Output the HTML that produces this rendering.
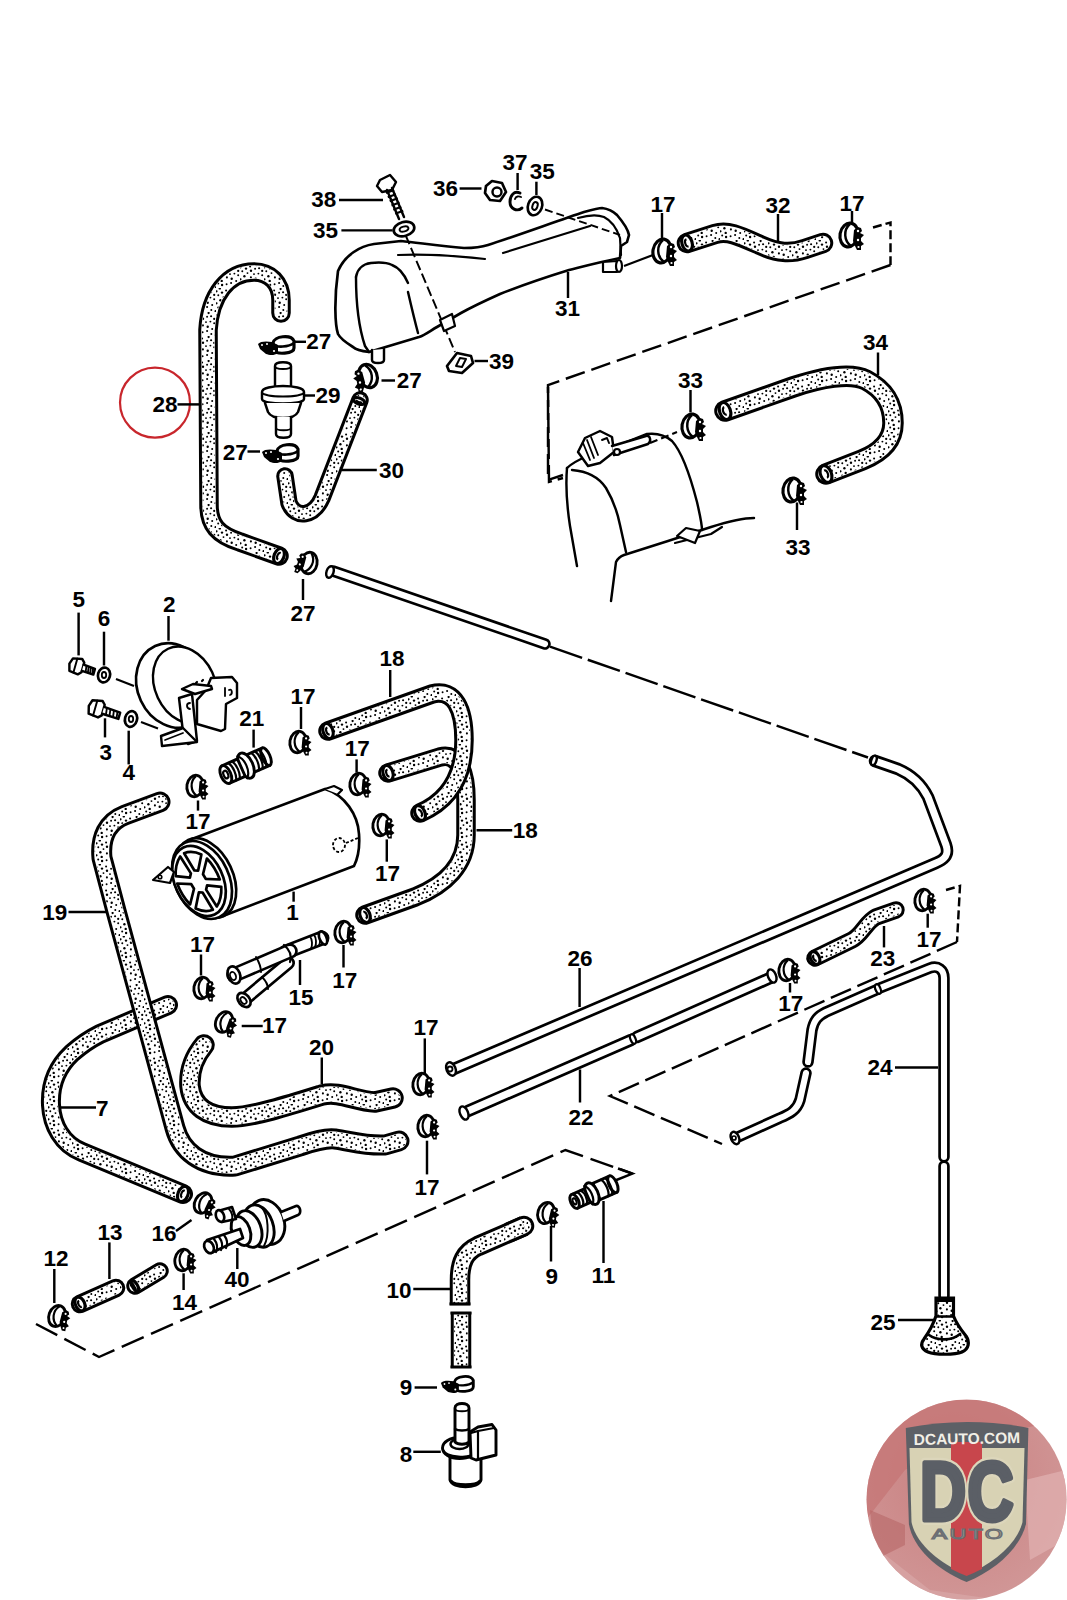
<!DOCTYPE html>
<html><head><meta charset="utf-8"><style>
html,body{margin:0;padding:0;background:#fff;}
body{width:1067px;height:1600px;overflow:hidden;}
svg{display:block;}
</style></head><body>
<svg width="1067" height="1600" viewBox="0 0 1067 1600">
<defs>
<pattern id="dots" width="24" height="24" patternUnits="userSpaceOnUse"><g fill="#000"><circle cx="10.9" cy="13.4" r="1.05"/><circle cx="22.2" cy="11.2" r="0.99"/><circle cx="4.4" cy="12.3" r="1.18"/><circle cx="15.1" cy="19.0" r="1.04"/><circle cx="2.3" cy="7.3" r="0.98"/><circle cx="2.2" cy="19.4" r="1.01"/><circle cx="16.6" cy="1.0" r="1.14"/><circle cx="23.6" cy="23.2" r="1.12"/><circle cx="15.7" cy="14.8" r="1.19"/><circle cx="3.8" cy="0.4" r="1.18"/><circle cx="10.6" cy="20.2" r="0.98"/><circle cx="11.0" cy="6.7" r="1.19"/><circle cx="20.2" cy="17.0" r="0.99"/><circle cx="18.4" cy="9.6" r="0.97"/><circle cx="19.1" cy="4.3" r="1.07"/><circle cx="6.0" cy="4.6" r="1.17"/><circle cx="10.1" cy="2.5" r="1.02"/><circle cx="5.7" cy="16.9" r="1.20"/><circle cx="0.5" cy="15.3" r="1.09"/><circle cx="19.3" cy="21.9" r="0.99"/><circle cx="0.5" cy="3.3" r="1.14"/><circle cx="7.5" cy="9.1" r="0.96"/><circle cx="14.0" cy="10.1" r="0.97"/><circle cx="15.1" cy="4.7" r="0.99"/><circle cx="6.1" cy="21.0" r="1.18"/><circle cx="22.2" cy="6.9" r="1.13"/></g></pattern>
</defs>
<rect width="1067" height="1600" fill="#fff"/>
<circle cx="155" cy="402.6" r="35" fill="none" stroke="#c8262c" stroke-width="2.20"/>
<path d="M281 313 L281 300 C281 283 270 272 254 272 C228 272 210 295 208 330 L209 505 C209 525 218 535 240 542 L279 556" stroke="#000" stroke-width="19.50" fill="none" stroke-linecap="round" stroke-linejoin="round"/>
<path d="M281 313 L281 300 C281 283 270 272 254 272 C228 272 210 295 208 330 L209 505 C209 525 218 535 240 542 L279 556" stroke="#fff" stroke-width="13.50" fill="none" stroke-linecap="round" stroke-linejoin="round"/>
<path d="M281 313 L281 300 C281 283 270 272 254 272 C228 272 210 295 208 330 L209 505 C209 525 218 535 240 542 L279 556" stroke="url(#dots)" stroke-width="12.50" fill="none" stroke-linecap="round" stroke-linejoin="round"/>
<ellipse cx="279" cy="556" rx="4.9" ry="7.8" transform="rotate(22 279 556)" fill="#fff" stroke="#000" stroke-width="3.17"/>
<path d="M279.5 552.5 A2.2 3.5 0 1 0 279.5 559.5" transform="rotate(22 279 556)" fill="none" stroke="#000" stroke-width="2.20"/>
<path d="M360 400 L322 498 C314 516 296 520 289 503 L285 476" stroke="#000" stroke-width="17.50" fill="none" stroke-linecap="round" stroke-linejoin="round"/>
<path d="M360 400 L322 498 C314 516 296 520 289 503 L285 476" stroke="#fff" stroke-width="11.50" fill="none" stroke-linecap="round" stroke-linejoin="round"/>
<path d="M360 400 L322 498 C314 516 296 520 289 503 L285 476" stroke="url(#dots)" stroke-width="10.50" fill="none" stroke-linecap="round" stroke-linejoin="round"/>
<ellipse cx="359" cy="401" rx="3" ry="6" transform="rotate(-69 359 401)" fill="#fff" stroke="#000" stroke-width="3.17"/>
<path d="M359.3 398.3 A1.4 2.7 0 1 0 359.3 403.7" transform="rotate(-69 359 401)" fill="none" stroke="#000" stroke-width="2.20"/>
<g transform="translate(277 345) rotate(0) scale(1 1)"><path d="M-4 -2 C-3 -9 14 -11 17 -4 L17 3 C17 9 -1 10 -3 5 Z" fill="#fff" stroke="#000" stroke-width="3.17"/><path d="M-4 -1 C-1 3 12 2 17 -2" fill="none" stroke="#000" stroke-width="2.68"/><path d="M-19 -1 C-17 -4 -10 -4 -5 -3 L1 0 L1 8 C-3 11 -8 10 -11 9 L-17 4 Z" fill="#000"/><circle cx="-15" cy="0" r="1" fill="#fff"/><circle cx="-10" cy="-1" r="1" fill="#fff"/><circle cx="-3" cy="6" r="1.1" fill="#fff"/></g>
<g transform="translate(281 453) rotate(0) scale(1 1)"><path d="M-4 -2 C-3 -9 14 -11 17 -4 L17 3 C17 9 -1 10 -3 5 Z" fill="#fff" stroke="#000" stroke-width="3.17"/><path d="M-4 -1 C-1 3 12 2 17 -2" fill="none" stroke="#000" stroke-width="2.68"/><path d="M-19 -1 C-17 -4 -10 -4 -5 -3 L1 0 L1 8 C-3 11 -8 10 -11 9 L-17 4 Z" fill="#000"/><circle cx="-15" cy="0" r="1" fill="#fff"/><circle cx="-10" cy="-1" r="1" fill="#fff"/><circle cx="-3" cy="6" r="1.1" fill="#fff"/></g>
<path d="M275 389 L275 366 C275 361 291 361 291 366 L291 389" stroke="#000" stroke-width="2.44" fill="#fff" stroke-linejoin="round" stroke-linecap="round" />
<path d="M275 366 C275 370 291 370 291 366" stroke="#000" stroke-width="1.95" fill="none" stroke-linejoin="round" stroke-linecap="round" />
<path d="M262 392 C262 384 304 384 304 392 L304 399 C304 405 262 405 262 399 Z" stroke="#000" stroke-width="2.44" fill="#fff" stroke-linejoin="round" stroke-linecap="round" />
<path d="M262 392 C262 398 304 398 304 392" stroke="#000" stroke-width="1.95" fill="none" stroke-linejoin="round" stroke-linecap="round" />
<path d="M265 403 L268 412 C272 420 294 420 298 412 L301 403" stroke="#000" stroke-width="2.44" fill="#fff" stroke-linejoin="round" stroke-linecap="round" />
<path d="M276 417 L276 434 C276 439 291 439 291 434 L291 417" stroke="#000" stroke-width="2.44" fill="#fff" stroke-linejoin="round" stroke-linecap="round" />
<path d="M276 428 C276 431 291 431 291 428" stroke="#000" stroke-width="1.83" fill="none" stroke-linejoin="round" stroke-linecap="round" />
<path d="M333 571 L545 644" stroke="#000" stroke-width="11.50" fill="none" stroke-linecap="round" stroke-linejoin="round"/>
<path d="M333 571 L545 644" stroke="#fff" stroke-width="6.10" fill="none" stroke-linecap="round" stroke-linejoin="round"/>
<ellipse cx="330" cy="572" rx="3.5" ry="6" transform="rotate(19 330 572)" fill="#fff" stroke="#000" stroke-width="2.44"/>
<path d="M550 646.6 L868 757.5" stroke="#000" stroke-width="2.44" fill="none" stroke-dasharray="34 6"/>
<path d="M875 761 L898 769 C912 775 922 785 928 797 L946 845 C949 854 946 859 936 863 L455 1068.5" stroke="#000" stroke-width="12.50" fill="none" stroke-linecap="round" stroke-linejoin="round"/>
<path d="M875 761 L898 769 C912 775 922 785 928 797 L946 845 C949 854 946 859 936 863 L455 1068.5" stroke="#fff" stroke-width="7.10" fill="none" stroke-linecap="round" stroke-linejoin="round"/>
<ellipse cx="874" cy="760.5" rx="2.5" ry="5" transform="rotate(19 874 760)" fill="#fff" stroke="#000" stroke-width="2.44"/>
<path d="M338 271 C345 255 360 246 374 244 L401 241 C420 243 440 246 464 248 C475 248 482 247 488 245 C510 238 560 220 584 212 C595 209 600 208 602 208 C610 209 614 212 617 215 C623 222 628 230 629 235 L627 242 L621 246 L620 258 C600 262 585 266 569 270 C540 279 520 286 500 294 C480 303 470 308 461 313 L437 327 C430 331 425 335 419 337 L369 352 C360 351 356 350 353 347 C345 342 340 338 338 334 C335 325 334 300 338 271 Z" stroke="#000" stroke-width="2.68" fill="#fff" stroke-linejoin="round" stroke-linecap="round" />
<path d="M356 277 C357 270 362 264 371 263 C380 262 388 263 392 265 C400 268 405 276 408 283" stroke="#000" stroke-width="2.44" fill="none" stroke-linejoin="round" stroke-linecap="round" />
<path d="M356 277 C356 300 358 325 365 346 L369 352" stroke="#000" stroke-width="2.44" fill="none" stroke-linejoin="round" stroke-linecap="round" />
<path d="M408 292 C411 305 414 318 418 333" stroke="#000" stroke-width="2.44" fill="none" stroke-linejoin="round" stroke-linecap="round" />
<path d="M398 255 C420 254 440 254 485 259" stroke="#000" stroke-width="2.20" fill="none" stroke-linejoin="round" stroke-linecap="round" />
<path d="M503 253 L590 226" stroke="#000" stroke-width="2.20" fill="none" stroke-linejoin="round" stroke-linecap="round" />
<path d="M578 218 C585 216 596 214 604 217 C612 221 617 229 620 238 L621 255" stroke="#000" stroke-width="2.20" fill="none" stroke-linejoin="round" stroke-linecap="round" />
<path d="M545 209.5 L620 235" stroke="#000" stroke-width="1.95" fill="none" stroke-dasharray="8 4"/>
<path d="M405.5 235 L455 352" stroke="#000" stroke-width="1.95" fill="none" stroke-dasharray="10 4"/>
<path d="M440 320 L452 314 L455 326 L444 331 Z" stroke="#000" stroke-width="2.20" fill="#fff" stroke-linejoin="round" stroke-linecap="round" />
<path d="M372 350 L372 360 C372 364 384 364 384 360 L384 349" stroke="#000" stroke-width="2.44" fill="#fff" stroke-linejoin="round" stroke-linecap="round" />
<path d="M603 262 L617 261 L617 272 L603 272 Z" stroke="#000" stroke-width="2.20" fill="#fff" stroke-linejoin="round" stroke-linecap="round" />
<ellipse cx="619" cy="266" rx="3" ry="6" fill="#fff" stroke="#000" stroke-width="2.20"/>
<line x1="624" y1="266" x2="653" y2="255" stroke="#000" stroke-width="2.20"/>
<path d="M380 180 L390 175 L396 182 L392 190 L382 192 L377 186 Z" stroke="#000" stroke-width="2.44" fill="#fff" stroke-linejoin="round" stroke-linecap="round" />
<path d="M387 190 L399 219 M392 188 L404 217" stroke="#000" stroke-width="2.44" fill="none" stroke-linejoin="round" stroke-linecap="round" />
<line x1="386" y1="193" x2="394" y2="190" stroke="#000" stroke-width="2.20"/>
<line x1="387.8" y1="197.2" x2="395.8" y2="194.2" stroke="#000" stroke-width="2.20"/>
<line x1="389.7" y1="201.3" x2="397.7" y2="198.3" stroke="#000" stroke-width="2.20"/>
<line x1="391.5" y1="205.5" x2="399.5" y2="202.5" stroke="#000" stroke-width="2.20"/>
<line x1="393.3" y1="209.7" x2="401.3" y2="206.7" stroke="#000" stroke-width="2.20"/>
<line x1="395.2" y1="213.8" x2="403.2" y2="210.8" stroke="#000" stroke-width="2.20"/>
<ellipse cx="404" cy="229" rx="10.5" ry="7" transform="rotate(-15 404 229)" fill="#fff" stroke="#000" stroke-width="2.68"/>
<ellipse cx="404" cy="229" rx="4.5" ry="2.5" transform="rotate(-15 404 229)" fill="none" stroke="#000" stroke-width="1.95"/>
<path d="M486 186 L492 181 L502 183 L506 192 L500 201 L490 200 L485 193 Z" stroke="#000" stroke-width="2.68" fill="#fff" stroke-linejoin="round" stroke-linecap="round" />
<circle cx="497" cy="192" r="4.5" fill="none" stroke="#000" stroke-width="2.44"/>
<path d="M520 193 C514 190 510 196 510 202 C510 209 517 212 522 208" stroke="#000" stroke-width="2.93" fill="none" stroke-linejoin="round" stroke-linecap="round" />
<path d="M515 199 C516 196 519 196 521 197" stroke="#000" stroke-width="1.95" fill="none" stroke-linejoin="round" stroke-linecap="round" />
<ellipse cx="535" cy="206" rx="7" ry="9.5" transform="rotate(20 535 206)" fill="#fff" stroke="#000" stroke-width="2.68"/>
<ellipse cx="535" cy="206" rx="2.5" ry="4" transform="rotate(20 535 206)" fill="none" stroke="#000" stroke-width="1.95"/>
<path d="M447 366 L457 353 L471 356 L473 363 L462 373 L449 371 Z" stroke="#000" stroke-width="2.68" fill="#fff" stroke-linejoin="round" stroke-linecap="round" />
<path d="M456 366 L460 358 L466 359 L462 367 Z" stroke="#000" stroke-width="1.95" fill="none" stroke-linejoin="round" stroke-linecap="round" />
<g transform="translate(368 376) rotate(-10) scale(-1 1)"><ellipse cx="0" cy="0" rx="9" ry="12" transform="rotate(10)" fill="#fff" stroke="#000" stroke-width="3.17"/><path d="M1 -11 C-6 -5 -5 6 2 11" fill="none" stroke="#000" stroke-width="2.44"/><path d="M5 -5 L9 -8 L12 -7 L13 -4 L11 -2 L15 0 L12 3 L12 6 L15 9 L12 11 L12 15 L8 15 L6 11 L4 6 Z" fill="#000"/><circle cx="9" cy="-4" r="1.2" fill="#fff"/><circle cx="9" cy="5" r="1.2" fill="#fff"/><circle cx="9.5" cy="12" r="1.1" fill="#fff"/></g>
<g transform="translate(309 563) rotate(20) scale(-0.9 0.9)"><ellipse cx="0" cy="0" rx="9" ry="12" transform="rotate(10)" fill="#fff" stroke="#000" stroke-width="3.17"/><path d="M1 -11 C-6 -5 -5 6 2 11" fill="none" stroke="#000" stroke-width="2.44"/><path d="M5 -5 L9 -8 L12 -7 L13 -4 L11 -2 L15 0 L12 3 L12 6 L15 9 L12 11 L12 15 L8 15 L6 11 L4 6 Z" fill="#000"/><circle cx="9" cy="-4" r="1.2" fill="#fff"/><circle cx="9" cy="5" r="1.2" fill="#fff"/><circle cx="9.5" cy="12" r="1.1" fill="#fff"/></g>
<path d="M687 243 L715 234 C728 230 740 236 760 245 C778 253 790 254 805 249 L823 243" stroke="#000" stroke-width="20.50" fill="none" stroke-linecap="round" stroke-linejoin="round"/>
<path d="M687 243 L715 234 C728 230 740 236 760 245 C778 253 790 254 805 249 L823 243" stroke="#fff" stroke-width="14.50" fill="none" stroke-linecap="round" stroke-linejoin="round"/>
<path d="M687 243 L715 234 C728 230 740 236 760 245 C778 253 790 254 805 249 L823 243" stroke="url(#dots)" stroke-width="13.50" fill="none" stroke-linecap="round" stroke-linejoin="round"/>
<ellipse cx="687" cy="243" rx="5.1" ry="8.2" transform="rotate(-17 687 243)" fill="#fff" stroke="#000" stroke-width="3.17"/>
<path d="M687.5 239.3 A2.3 3.7 0 1 0 687.5 246.7" transform="rotate(-17 687 243)" fill="none" stroke="#000" stroke-width="2.20"/>
<g transform="translate(662 251) rotate(0) scale(1 1)"><ellipse cx="0" cy="0" rx="9" ry="12" transform="rotate(10)" fill="#fff" stroke="#000" stroke-width="3.17"/><path d="M1 -11 C-6 -5 -5 6 2 11" fill="none" stroke="#000" stroke-width="2.44"/><path d="M5 -5 L9 -8 L12 -7 L13 -4 L11 -2 L15 0 L12 3 L12 6 L15 9 L12 11 L12 15 L8 15 L6 11 L4 6 Z" fill="#000"/><circle cx="9" cy="-4" r="1.2" fill="#fff"/><circle cx="9" cy="5" r="1.2" fill="#fff"/><circle cx="9.5" cy="12" r="1.1" fill="#fff"/></g>
<g transform="translate(849 235) rotate(0) scale(1 1)"><ellipse cx="0" cy="0" rx="9" ry="12" transform="rotate(10)" fill="#fff" stroke="#000" stroke-width="3.17"/><path d="M1 -11 C-6 -5 -5 6 2 11" fill="none" stroke="#000" stroke-width="2.44"/><path d="M5 -5 L9 -8 L12 -7 L13 -4 L11 -2 L15 0 L12 3 L12 6 L15 9 L12 11 L12 15 L8 15 L6 11 L4 6 Z" fill="#000"/><circle cx="9" cy="-4" r="1.2" fill="#fff"/><circle cx="9" cy="5" r="1.2" fill="#fff"/><circle cx="9.5" cy="12" r="1.1" fill="#fff"/></g>
<path d="M873 227.5 L890.5 222.5 L890.5 265" stroke="#000" stroke-width="2.44" fill="none" stroke-dasharray="9 4"/>
<path d="M890.5 265 L548 385 L548 480 L563 475" stroke="#000" stroke-width="2.44" fill="none" stroke-dasharray="20 7"/>
<path d="M725 411 L793 387 C820 378 850 372 866 380 C885 390 893 405 893 423 C893 440 882 452 862 460 L826 474" stroke="#000" stroke-width="21.50" fill="none" stroke-linecap="round" stroke-linejoin="round"/>
<path d="M725 411 L793 387 C820 378 850 372 866 380 C885 390 893 405 893 423 C893 440 882 452 862 460 L826 474" stroke="#fff" stroke-width="15.50" fill="none" stroke-linecap="round" stroke-linejoin="round"/>
<path d="M725 411 L793 387 C820 378 850 372 866 380 C885 390 893 405 893 423 C893 440 882 452 862 460 L826 474" stroke="url(#dots)" stroke-width="14.50" fill="none" stroke-linecap="round" stroke-linejoin="round"/>
<ellipse cx="725" cy="411" rx="5.4" ry="8.8" transform="rotate(-19 725 411)" fill="#fff" stroke="#000" stroke-width="3.17"/>
<path d="M725.5 407.1 A2.4 3.9 0 1 0 725.5 414.9" transform="rotate(-19 725 411)" fill="none" stroke="#000" stroke-width="2.20"/>
<ellipse cx="826" cy="474" rx="5.4" ry="8.8" transform="rotate(158 826 474)" fill="#fff" stroke="#000" stroke-width="3.17"/>
<path d="M826.5 470.1 A2.4 3.9 0 1 0 826.5 477.9" transform="rotate(158 826 474)" fill="none" stroke="#000" stroke-width="2.20"/>
<g transform="translate(691 426) rotate(0) scale(1 1)"><ellipse cx="0" cy="0" rx="9" ry="12" transform="rotate(10)" fill="#fff" stroke="#000" stroke-width="3.17"/><path d="M1 -11 C-6 -5 -5 6 2 11" fill="none" stroke="#000" stroke-width="2.44"/><path d="M5 -5 L9 -8 L12 -7 L13 -4 L11 -2 L15 0 L12 3 L12 6 L15 9 L12 11 L12 15 L8 15 L6 11 L4 6 Z" fill="#000"/><circle cx="9" cy="-4" r="1.2" fill="#fff"/><circle cx="9" cy="5" r="1.2" fill="#fff"/><circle cx="9.5" cy="12" r="1.1" fill="#fff"/></g>
<g transform="translate(792 490) rotate(0) scale(1 1)"><ellipse cx="0" cy="0" rx="9" ry="12" transform="rotate(10)" fill="#fff" stroke="#000" stroke-width="3.17"/><path d="M1 -11 C-6 -5 -5 6 2 11" fill="none" stroke="#000" stroke-width="2.44"/><path d="M5 -5 L9 -8 L12 -7 L13 -4 L11 -2 L15 0 L12 3 L12 6 L15 9 L12 11 L12 15 L8 15 L6 11 L4 6 Z" fill="#000"/><circle cx="9" cy="-4" r="1.2" fill="#fff"/><circle cx="9" cy="5" r="1.2" fill="#fff"/><circle cx="9.5" cy="12" r="1.1" fill="#fff"/></g>
<path d="M567 468 C566 480 566 500 570 526 L577 566" stroke="#000" stroke-width="2.44" fill="none" stroke-linejoin="round" stroke-linecap="round" />
<path d="M567 468 C575 460 600 450 612 448 L647 434 C655 433 665 435 672 441 C682 452 690 475 697 502 C700 515 702 525 702 530" stroke="#000" stroke-width="2.44" fill="none" stroke-linejoin="round" stroke-linecap="round" />
<path d="M572 470 C585 471 598 476 606 488 C612 498 617 510 620 525 L626 552" stroke="#000" stroke-width="2.44" fill="none" stroke-linejoin="round" stroke-linecap="round" />
<path d="M611 601 L616 562 C618 558 621 556 624 555 L668 541 L711 527 C730 521 745 518 754 518" stroke="#000" stroke-width="2.44" fill="none" stroke-linejoin="round" stroke-linecap="round" />
<path d="M675 543 L711 534 L722 527" stroke="#000" stroke-width="2.20" fill="none" stroke-linejoin="round" stroke-linecap="round" />
<path d="M677 536 L686 528 L700 531 L695 543 Z" stroke="#000" stroke-width="2.20" fill="#fff" stroke-linejoin="round" stroke-linecap="round" />
<path d="M578 452 L585 438 L600 431 L612 437 L614 452 L600 463 L588 466 Z" stroke="#000" stroke-width="2.44" fill="#fff" stroke-linejoin="round" stroke-linecap="round" />
<path d="M583 443 L590 460 M587 440 L594 458 M591 437 L598 455" stroke="#000" stroke-width="1.83" fill="none" stroke-linejoin="round" stroke-linecap="round" />
<path d="M602 440 L607 438 L609 443" stroke="#000" stroke-width="1.95" fill="none" stroke-linejoin="round" stroke-linecap="round" />
<path d="M612 446 L646 436 C650 435 652 441 648 444 L614 455" stroke="#000" stroke-width="2.44" fill="#fff" stroke-linejoin="round" stroke-linecap="round" />
<circle cx="617" cy="452" r="3" fill="#fff" stroke="#000" stroke-width="2.20"/>
<path d="M650 443 L677 432" stroke="#000" stroke-width="2.20" fill="none" stroke-dasharray="8 4"/>
<path d="M548 387 L549 482 L563 478" stroke="#000" stroke-width="2.44" fill="none" stroke-dasharray="20 6"/>
<g transform="rotate(16 76 666)">
<path d="M71 659.5 L80 657.5 L83 660.5 L83 670.5 L80 673.5 L71 672.5 L69 665.5 Z" stroke="#000" stroke-width="2.44" fill="#fff" stroke-linejoin="round" stroke-linecap="round" />
<path d="M75.3 658.5 L75.3 673.0" stroke="#000" stroke-width="1.95" fill="none" stroke-linejoin="round" stroke-linecap="round" />
<path d="M83 662.5 L95 663.5 L95 669.5 L83 669.0" stroke="#000" stroke-width="2.44" fill="#fff" stroke-linejoin="round" stroke-linecap="round" />
<line x1="86" y1="663" x2="87" y2="669.5" stroke="#000" stroke-width="1.83"/>
<line x1="88.3" y1="663" x2="89.3" y2="669.5" stroke="#000" stroke-width="1.83"/>
<line x1="90.6" y1="663" x2="91.6" y2="669.5" stroke="#000" stroke-width="1.83"/>
<line x1="92.9" y1="663" x2="93.9" y2="669.5" stroke="#000" stroke-width="1.83"/>
</g>
<ellipse cx="104" cy="675" rx="6" ry="7.5" transform="rotate(15 104 675)" fill="#fff" stroke="#000" stroke-width="2.68"/>
<ellipse cx="104" cy="675" rx="2.2" ry="3" fill="none" stroke="#000" stroke-width="1.83"/>
<line x1="116" y1="679" x2="134" y2="686" stroke="#000" stroke-width="2.20"/>
<g transform="rotate(16 96 708)">
<path d="M90.5 701.5 L100.5 699.5 L103.5 702.5 L103.5 713.5 L100.5 716.5 L90.5 715.5 L88.5 708.0 Z" stroke="#000" stroke-width="2.44" fill="#fff" stroke-linejoin="round" stroke-linecap="round" />
<path d="M95.25 700.5 L95.25 716.0" stroke="#000" stroke-width="1.95" fill="none" stroke-linejoin="round" stroke-linecap="round" />
<path d="M103.5 704.7 L120.5 705.7 L120.5 712.3 L103.5 711.8" stroke="#000" stroke-width="2.44" fill="#fff" stroke-linejoin="round" stroke-linecap="round" />
<line x1="106.5" y1="705.2" x2="107.5" y2="712.3" stroke="#000" stroke-width="1.83"/>
<line x1="110.2" y1="705.2" x2="111.2" y2="712.3" stroke="#000" stroke-width="1.83"/>
<line x1="113.9" y1="705.2" x2="114.9" y2="712.3" stroke="#000" stroke-width="1.83"/>
<line x1="117.6" y1="705.2" x2="118.6" y2="712.3" stroke="#000" stroke-width="1.83"/>
</g>
<ellipse cx="131" cy="719" rx="6" ry="8" transform="rotate(15 131 719)" fill="#fff" stroke="#000" stroke-width="2.68"/>
<ellipse cx="131" cy="719" rx="2.2" ry="3" fill="none" stroke="#000" stroke-width="1.83"/>
<line x1="141" y1="722" x2="158" y2="728.5" stroke="#000" stroke-width="2.20"/>
<ellipse cx="173.5" cy="685.5" rx="36" ry="43.5" transform="rotate(-25 173.5 685.5)" fill="#fff" stroke="#000" stroke-width="2.68"/>
<ellipse cx="185" cy="685" rx="30" ry="40" transform="rotate(-25 185 685)" fill="#fff" stroke="#000" stroke-width="2.44"/>
<path d="M197 724 L221 731 L225 729 L226 704 L237 698 L237 683 L232 677 L211 678 L206 690 L197 700 Z" stroke="#000" stroke-width="2.44" fill="#fff" stroke-linejoin="round" stroke-linecap="round" />
<path d="M179 698 L192 694 L197 741 L188 744 L183 732 Z" stroke="#000" stroke-width="2.44" fill="#fff" stroke-linejoin="round" stroke-linecap="round" />
<path d="M161 736 L183 728 L197 742 L162 746 Z" stroke="#000" stroke-width="2.44" fill="#fff" stroke-linejoin="round" stroke-linecap="round" />
<path d="M182 689 L193 684 L211 686 L212 689 L195 694 Z" stroke="#000" stroke-width="2.44" fill="#fff" stroke-linejoin="round" stroke-linecap="round" />
<path d="M225 688 L225 696 M229 690 C232 688 233 694 230 695" stroke="#000" stroke-width="1.83" fill="none" stroke-linejoin="round" stroke-linecap="round" />
<path d="M190 703 C186 703 186 708 190 709" stroke="#000" stroke-width="1.83" fill="none" stroke-linejoin="round" stroke-linecap="round" />
<path d="M165 740 L183 733" stroke="#000" stroke-width="1.71" fill="none" stroke-linejoin="round" stroke-linecap="round" />
<path d="M196 683 L197 682 M202 681 L203 680" stroke="#000" stroke-width="2.20" fill="none" stroke-linejoin="round" stroke-linecap="round" />
<g transform="translate(245 766) rotate(-24)">
<path d="M6 -9.5 L23 -9.5 L23 9.5 L6 9.5 Z" stroke="#000" stroke-width="2.93" fill="#fff" stroke-linejoin="round" stroke-linecap="round" />
<ellipse cx="23" cy="0" rx="4" ry="9.5" fill="#fff" stroke="#000" stroke-width="2.93"/>
<path d="M11 -9.5 C14 -5 14 5 11 9.5 M15 -9.5 C18 -5 18 5 15 9.5 M19 -9.5 C22 -5 22 5 19 9.5" stroke="#000" stroke-width="2.20" fill="none" stroke-linejoin="round" stroke-linecap="round" />
<ellipse cx="1" cy="0" rx="7" ry="13.5" fill="#fff" stroke="#000" stroke-width="2.93"/>
<path d="M-3 -12 C3 -7 3 7 -3 12" stroke="#000" stroke-width="2.20" fill="none" stroke-linejoin="round" stroke-linecap="round" />
<path d="M-21 -9.5 L-4 -9.5 L-4 9.5 L-21 9.5 Z" stroke="#000" stroke-width="2.93" fill="#fff" stroke-linejoin="round" stroke-linecap="round" />
<path d="M-14 -9.5 C-11 -5 -11 5 -14 9.5 M-10 -9.5 C-7 -5 -7 5 -10 9.5" stroke="#000" stroke-width="2.20" fill="none" stroke-linejoin="round" stroke-linecap="round" />
<ellipse cx="-21" cy="0" rx="5" ry="9.5" fill="#fff" stroke="#000" stroke-width="2.93"/>
<ellipse cx="-21" cy="0" rx="2.2" ry="4" fill="none" stroke="#000" stroke-width="2.20"/>
</g>
<g transform="translate(195 786) rotate(0) scale(0.9 0.9)"><ellipse cx="0" cy="0" rx="9" ry="12" transform="rotate(10)" fill="#fff" stroke="#000" stroke-width="3.17"/><path d="M1 -11 C-6 -5 -5 6 2 11" fill="none" stroke="#000" stroke-width="2.44"/><path d="M5 -5 L9 -8 L12 -7 L13 -4 L11 -2 L15 0 L12 3 L12 6 L15 9 L12 11 L12 15 L8 15 L6 11 L4 6 Z" fill="#000"/><circle cx="9" cy="-4" r="1.2" fill="#fff"/><circle cx="9" cy="5" r="1.2" fill="#fff"/><circle cx="9.5" cy="12" r="1.1" fill="#fff"/></g>
<path d="M192 839 L325 789 C345 795 358 815 359 834 C360 848 357 860 354 866 L223 916" stroke="#000" stroke-width="2.68" fill="#fff" stroke-linejoin="round" stroke-linecap="round" />
<path d="M325 789 L334 786 L342 790 L338 794" stroke="#000" stroke-width="2.20" fill="#fff" stroke-linejoin="round" stroke-linecap="round" />
<ellipse cx="339" cy="845" rx="6" ry="7" fill="none" stroke="#000" stroke-width="1.83" stroke-dasharray="3 2"/>
<path d="M346 843 L358 838" stroke="#000" stroke-width="1.83" fill="none" stroke-dasharray="3 2"/>
<ellipse cx="206" cy="878" rx="27" ry="42" transform="rotate(-25 206 878)" fill="#fff" stroke="#000" stroke-width="2.68"/>
<ellipse cx="202" cy="880" rx="27" ry="41" transform="rotate(-25 202 880)" fill="#fff" stroke="#000" stroke-width="2.68"/>
<ellipse cx="199" cy="881" rx="24" ry="37" transform="rotate(-25 199 881)" fill="#fff" stroke="#000" stroke-width="2.68"/>
<path d="M207.1 885.4 L221.3 886.8 Q221.9 898.8 216.8 906.5 L206.1 889.6 Z" stroke="#000" stroke-width="2.68" fill="#fff" stroke-linejoin="round" stroke-linecap="round" />
<path d="M202.6 892.5 L212.9 909.8 Q205.0 913.0 195.6 908.5 L198.9 892.3 Z" stroke="#000" stroke-width="2.68" fill="#fff" stroke-linejoin="round" stroke-linecap="round" />
<path d="M194.0 888.7 L190.1 904.5 Q181.7 895.7 177.2 883.5 L191.3 884.2 Z" stroke="#000" stroke-width="2.68" fill="#fff" stroke-linejoin="round" stroke-linecap="round" />
<path d="M189.9 877.6 L175.7 876.2 Q175.1 864.2 180.2 856.5 L190.9 873.4 Z" stroke="#000" stroke-width="2.68" fill="#fff" stroke-linejoin="round" stroke-linecap="round" />
<path d="M194.4 870.5 L184.1 853.2 Q192.0 850.0 201.4 854.5 L198.1 870.7 Z" stroke="#000" stroke-width="2.68" fill="#fff" stroke-linejoin="round" stroke-linecap="round" />
<path d="M203.0 874.3 L206.9 858.5 Q215.3 867.3 219.8 879.5 L205.7 878.8 Z" stroke="#000" stroke-width="2.68" fill="#fff" stroke-linejoin="round" stroke-linecap="round" />
<path d="M153 880 L168 867 L174 872 L170 883 Z" stroke="#000" stroke-width="2.20" fill="#fff" stroke-linejoin="round" stroke-linecap="round" />
<circle cx="160" cy="877" r="1.8" fill="none" stroke="#000" stroke-width="1.59"/>
<path d="M388 773 L440 757 C460 752 466 775 466 800 L466 835 C466 865 445 885 415 897 L365 915" stroke="#000" stroke-width="19.50" fill="none" stroke-linecap="round" stroke-linejoin="round"/>
<path d="M388 773 L440 757 C460 752 466 775 466 800 L466 835 C466 865 445 885 415 897 L365 915" stroke="#fff" stroke-width="13.50" fill="none" stroke-linecap="round" stroke-linejoin="round"/>
<path d="M388 773 L440 757 C460 752 466 775 466 800 L466 835 C466 865 445 885 415 897 L365 915" stroke="url(#dots)" stroke-width="12.50" fill="none" stroke-linecap="round" stroke-linejoin="round"/>
<ellipse cx="388" cy="773" rx="4.9" ry="7.8" transform="rotate(-17 388 773)" fill="#fff" stroke="#000" stroke-width="3.17"/>
<path d="M388.5 769.5 A2.2 3.5 0 1 0 388.5 776.5" transform="rotate(-17 388 773)" fill="none" stroke="#000" stroke-width="2.20"/>
<ellipse cx="365" cy="915" rx="4.9" ry="7.8" transform="rotate(160 365 915)" fill="#fff" stroke="#000" stroke-width="3.17"/>
<path d="M365.5 911.5 A2.2 3.5 0 1 0 365.5 918.5" transform="rotate(160 365 915)" fill="none" stroke="#000" stroke-width="2.20"/>
<path d="M328 731 L432 694 C455 688 464 710 464 740 C464 775 450 800 420 813" stroke="#000" stroke-width="19.50" fill="none" stroke-linecap="round" stroke-linejoin="round"/>
<path d="M328 731 L432 694 C455 688 464 710 464 740 C464 775 450 800 420 813" stroke="#fff" stroke-width="13.50" fill="none" stroke-linecap="round" stroke-linejoin="round"/>
<path d="M328 731 L432 694 C455 688 464 710 464 740 C464 775 450 800 420 813" stroke="url(#dots)" stroke-width="12.50" fill="none" stroke-linecap="round" stroke-linejoin="round"/>
<ellipse cx="328" cy="731" rx="4.9" ry="7.8" transform="rotate(-19 328 731)" fill="#fff" stroke="#000" stroke-width="3.17"/>
<path d="M328.5 727.5 A2.2 3.5 0 1 0 328.5 734.5" transform="rotate(-19 328 731)" fill="none" stroke="#000" stroke-width="2.20"/>
<ellipse cx="420" cy="813" rx="4.9" ry="7.8" transform="rotate(156 420 813)" fill="#fff" stroke="#000" stroke-width="3.17"/>
<path d="M420.5 809.5 A2.2 3.5 0 1 0 420.5 816.5" transform="rotate(156 420 813)" fill="none" stroke="#000" stroke-width="2.20"/>
<g transform="translate(298 742) rotate(0) scale(0.9 0.9)"><ellipse cx="0" cy="0" rx="9" ry="12" transform="rotate(10)" fill="#fff" stroke="#000" stroke-width="3.17"/><path d="M1 -11 C-6 -5 -5 6 2 11" fill="none" stroke="#000" stroke-width="2.44"/><path d="M5 -5 L9 -8 L12 -7 L13 -4 L11 -2 L15 0 L12 3 L12 6 L15 9 L12 11 L12 15 L8 15 L6 11 L4 6 Z" fill="#000"/><circle cx="9" cy="-4" r="1.2" fill="#fff"/><circle cx="9" cy="5" r="1.2" fill="#fff"/><circle cx="9.5" cy="12" r="1.1" fill="#fff"/></g>
<g transform="translate(358 784) rotate(0) scale(0.9 0.9)"><ellipse cx="0" cy="0" rx="9" ry="12" transform="rotate(10)" fill="#fff" stroke="#000" stroke-width="3.17"/><path d="M1 -11 C-6 -5 -5 6 2 11" fill="none" stroke="#000" stroke-width="2.44"/><path d="M5 -5 L9 -8 L12 -7 L13 -4 L11 -2 L15 0 L12 3 L12 6 L15 9 L12 11 L12 15 L8 15 L6 11 L4 6 Z" fill="#000"/><circle cx="9" cy="-4" r="1.2" fill="#fff"/><circle cx="9" cy="5" r="1.2" fill="#fff"/><circle cx="9.5" cy="12" r="1.1" fill="#fff"/></g>
<g transform="translate(381 825) rotate(0) scale(0.9 0.9)"><ellipse cx="0" cy="0" rx="9" ry="12" transform="rotate(10)" fill="#fff" stroke="#000" stroke-width="3.17"/><path d="M1 -11 C-6 -5 -5 6 2 11" fill="none" stroke="#000" stroke-width="2.44"/><path d="M5 -5 L9 -8 L12 -7 L13 -4 L11 -2 L15 0 L12 3 L12 6 L15 9 L12 11 L12 15 L8 15 L6 11 L4 6 Z" fill="#000"/><circle cx="9" cy="-4" r="1.2" fill="#fff"/><circle cx="9" cy="5" r="1.2" fill="#fff"/><circle cx="9.5" cy="12" r="1.1" fill="#fff"/></g>
<g transform="translate(343 932) rotate(0) scale(0.9 0.9)"><ellipse cx="0" cy="0" rx="9" ry="12" transform="rotate(10)" fill="#fff" stroke="#000" stroke-width="3.17"/><path d="M1 -11 C-6 -5 -5 6 2 11" fill="none" stroke="#000" stroke-width="2.44"/><path d="M5 -5 L9 -8 L12 -7 L13 -4 L11 -2 L15 0 L12 3 L12 6 L15 9 L12 11 L12 15 L8 15 L6 11 L4 6 Z" fill="#000"/><circle cx="9" cy="-4" r="1.2" fill="#fff"/><circle cx="9" cy="5" r="1.2" fill="#fff"/><circle cx="9.5" cy="12" r="1.1" fill="#fff"/></g>
<path d="M286 952 L322 938" stroke="#000" stroke-width="15.00" fill="none" stroke-linecap="round" stroke-linejoin="round"/>
<path d="M286 952 L322 938" stroke="#fff" stroke-width="9.60" fill="none" stroke-linecap="round" stroke-linejoin="round"/>
<path d="M310 936.5 C312.5 939.5 312.5 945.5 311 948.5" stroke="#000" stroke-width="1.83" fill="none" stroke-linejoin="round" stroke-linecap="round" />
<path d="M314 934.94 C316.5 937.94 316.5 943.94 315 946.94" stroke="#000" stroke-width="1.83" fill="none" stroke-linejoin="round" stroke-linecap="round" />
<path d="M318 933.38 C320.5 936.38 320.5 942.38 319 945.38" stroke="#000" stroke-width="1.83" fill="none" stroke-linejoin="round" stroke-linecap="round" />
<ellipse cx="323" cy="938" rx="3.5" ry="7" transform="rotate(-22 323 938)" fill="#fff" stroke="#000" stroke-width="2.68"/>
<path d="M245 999 L288 963" stroke="#000" stroke-width="14.00" fill="none" stroke-linecap="round" stroke-linejoin="round"/>
<path d="M245 999 L288 963" stroke="#fff" stroke-width="8.60" fill="none" stroke-linecap="round" stroke-linejoin="round"/>
<path d="M262 977 C266 981 268 986 268 989" stroke="#000" stroke-width="1.95" fill="none" stroke-linejoin="round" stroke-linecap="round" />
<path d="M234 975 L290 951" stroke="#000" stroke-width="15.50" fill="none" stroke-linecap="round" stroke-linejoin="round"/>
<path d="M234 975 L290 951" stroke="#fff" stroke-width="10.10" fill="none" stroke-linecap="round" stroke-linejoin="round"/>
<path d="M256 957 C259 962 261 968 261 972" stroke="#000" stroke-width="1.95" fill="none" stroke-linejoin="round" stroke-linecap="round" />
<ellipse cx="234" cy="975" rx="6" ry="9" transform="rotate(-22 234 975)" fill="#fff" stroke="#000" stroke-width="2.68"/>
<ellipse cx="233" cy="976" rx="2.8" ry="4.2" transform="rotate(-22 233 976)" fill="none" stroke="#000" stroke-width="1.83"/>
<ellipse cx="244" cy="1000" rx="5.5" ry="8" transform="rotate(-40 244 1000)" fill="#fff" stroke="#000" stroke-width="2.68"/>
<ellipse cx="243.5" cy="1000.5" rx="2.5" ry="3.8" transform="rotate(-40 243.5 1000.5)" fill="none" stroke="#000" stroke-width="1.83"/>
<path d="M284 945 C290 950 292 956 290 962" stroke="#000" stroke-width="2.20" fill="none" stroke-linejoin="round" stroke-linecap="round" />
<g transform="translate(202 988) rotate(0) scale(0.9 0.9)"><ellipse cx="0" cy="0" rx="9" ry="12" transform="rotate(10)" fill="#fff" stroke="#000" stroke-width="3.17"/><path d="M1 -11 C-6 -5 -5 6 2 11" fill="none" stroke="#000" stroke-width="2.44"/><path d="M5 -5 L9 -8 L12 -7 L13 -4 L11 -2 L15 0 L12 3 L12 6 L15 9 L12 11 L12 15 L8 15 L6 11 L4 6 Z" fill="#000"/><circle cx="9" cy="-4" r="1.2" fill="#fff"/><circle cx="9" cy="5" r="1.2" fill="#fff"/><circle cx="9.5" cy="12" r="1.1" fill="#fff"/></g>
<g transform="translate(224 1022) rotate(15) scale(0.9 0.9)"><ellipse cx="0" cy="0" rx="9" ry="12" transform="rotate(10)" fill="#fff" stroke="#000" stroke-width="3.17"/><path d="M1 -11 C-6 -5 -5 6 2 11" fill="none" stroke="#000" stroke-width="2.44"/><path d="M5 -5 L9 -8 L12 -7 L13 -4 L11 -2 L15 0 L12 3 L12 6 L15 9 L12 11 L12 15 L8 15 L6 11 L4 6 Z" fill="#000"/><circle cx="9" cy="-4" r="1.2" fill="#fff"/><circle cx="9" cy="5" r="1.2" fill="#fff"/><circle cx="9.5" cy="12" r="1.1" fill="#fff"/></g>
<path d="M468 1111 L631 1040" stroke="#000" stroke-width="12.50" fill="none" stroke-linecap="round" stroke-linejoin="round"/>
<path d="M468 1111 L631 1040" stroke="#fff" stroke-width="7.10" fill="none" stroke-linecap="round" stroke-linejoin="round"/>
<path d="M637 1037 L770 978" stroke="#000" stroke-width="12.50" fill="none" stroke-linecap="round" stroke-linejoin="round"/>
<path d="M637 1037 L770 978" stroke="#fff" stroke-width="7.10" fill="none" stroke-linecap="round" stroke-linejoin="round"/>
<ellipse cx="464" cy="1113" rx="4" ry="7" transform="rotate(-23 464 1113)" fill="#fff" stroke="#000" stroke-width="2.44"/>
<ellipse cx="772" cy="976" rx="4" ry="7" transform="rotate(-23 772 976)" fill="#fff" stroke="#000" stroke-width="2.44"/>
<ellipse cx="633" cy="1039" rx="2.5" ry="5" transform="rotate(-23 633 1039)" fill="#fff" stroke="#000" stroke-width="2.20"/>
<ellipse cx="451" cy="1069" rx="4.5" ry="7" transform="rotate(-23 451 1069)" fill="#fff" stroke="#000" stroke-width="2.44"/>
<circle cx="450" cy="1069" r="2.5" fill="none" stroke="#000" stroke-width="1.83"/>
<g transform="translate(421 1084) rotate(0) scale(0.9 0.9)"><ellipse cx="0" cy="0" rx="9" ry="12" transform="rotate(10)" fill="#fff" stroke="#000" stroke-width="3.17"/><path d="M1 -11 C-6 -5 -5 6 2 11" fill="none" stroke="#000" stroke-width="2.44"/><path d="M5 -5 L9 -8 L12 -7 L13 -4 L11 -2 L15 0 L12 3 L12 6 L15 9 L12 11 L12 15 L8 15 L6 11 L4 6 Z" fill="#000"/><circle cx="9" cy="-4" r="1.2" fill="#fff"/><circle cx="9" cy="5" r="1.2" fill="#fff"/><circle cx="9.5" cy="12" r="1.1" fill="#fff"/></g>
<g transform="translate(426 1126) rotate(0) scale(0.9 0.9)"><ellipse cx="0" cy="0" rx="9" ry="12" transform="rotate(10)" fill="#fff" stroke="#000" stroke-width="3.17"/><path d="M1 -11 C-6 -5 -5 6 2 11" fill="none" stroke="#000" stroke-width="2.44"/><path d="M5 -5 L9 -8 L12 -7 L13 -4 L11 -2 L15 0 L12 3 L12 6 L15 9 L12 11 L12 15 L8 15 L6 11 L4 6 Z" fill="#000"/><circle cx="9" cy="-4" r="1.2" fill="#fff"/><circle cx="9" cy="5" r="1.2" fill="#fff"/><circle cx="9.5" cy="12" r="1.1" fill="#fff"/></g>
<path d="M815 958 L852 940 C862 935 866 922 876 917 L896 910" stroke="#000" stroke-width="17.50" fill="none" stroke-linecap="round" stroke-linejoin="round"/>
<path d="M815 958 L852 940 C862 935 866 922 876 917 L896 910" stroke="#fff" stroke-width="11.50" fill="none" stroke-linecap="round" stroke-linejoin="round"/>
<path d="M815 958 L852 940 C862 935 866 922 876 917 L896 910" stroke="url(#dots)" stroke-width="10.50" fill="none" stroke-linecap="round" stroke-linejoin="round"/>
<ellipse cx="815" cy="958" rx="4.4" ry="6.8" transform="rotate(-26 815 958)" fill="#fff" stroke="#000" stroke-width="3.17"/>
<path d="M815.4 955 A2 3 0 1 0 815.4 961" transform="rotate(-26 815 958)" fill="none" stroke="#000" stroke-width="2.20"/>
<g transform="translate(787 970) rotate(0) scale(0.9 0.9)"><ellipse cx="0" cy="0" rx="9" ry="12" transform="rotate(10)" fill="#fff" stroke="#000" stroke-width="3.17"/><path d="M1 -11 C-6 -5 -5 6 2 11" fill="none" stroke="#000" stroke-width="2.44"/><path d="M5 -5 L9 -8 L12 -7 L13 -4 L11 -2 L15 0 L12 3 L12 6 L15 9 L12 11 L12 15 L8 15 L6 11 L4 6 Z" fill="#000"/><circle cx="9" cy="-4" r="1.2" fill="#fff"/><circle cx="9" cy="5" r="1.2" fill="#fff"/><circle cx="9.5" cy="12" r="1.1" fill="#fff"/></g>
<g transform="translate(923 900) rotate(0) scale(0.9 0.9)"><ellipse cx="0" cy="0" rx="9" ry="12" transform="rotate(10)" fill="#fff" stroke="#000" stroke-width="3.17"/><path d="M1 -11 C-6 -5 -5 6 2 11" fill="none" stroke="#000" stroke-width="2.44"/><path d="M5 -5 L9 -8 L12 -7 L13 -4 L11 -2 L15 0 L12 3 L12 6 L15 9 L12 11 L12 15 L8 15 L6 11 L4 6 Z" fill="#000"/><circle cx="9" cy="-4" r="1.2" fill="#fff"/><circle cx="9" cy="5" r="1.2" fill="#fff"/><circle cx="9.5" cy="12" r="1.1" fill="#fff"/></g>
<path d="M946 890 L960 886 L957 942" stroke="#000" stroke-width="2.44" fill="none" stroke-dasharray="9 4"/>
<path d="M957 942 L610 1096 L722 1144" stroke="#000" stroke-width="2.44" fill="none" stroke-dasharray="22 7"/>
<path d="M808 1062 L812 1030 C814 1020 818 1016 826 1012 L876 990" stroke="#000" stroke-width="11.50" fill="none" stroke-linecap="round" stroke-linejoin="round"/>
<path d="M808 1062 L812 1030 C814 1020 818 1016 826 1012 L876 990" stroke="#fff" stroke-width="6.10" fill="none" stroke-linecap="round" stroke-linejoin="round"/>
<path d="M880 988 L930 968 C938 965 944 970 944 978 L944 1157" stroke="#000" stroke-width="11.50" fill="none" stroke-linecap="round" stroke-linejoin="round"/>
<path d="M880 988 L930 968 C938 965 944 970 944 978 L944 1157" stroke="#fff" stroke-width="6.10" fill="none" stroke-linecap="round" stroke-linejoin="round"/>
<path d="M944 1166 L944 1296" stroke="#000" stroke-width="11.50" fill="none" stroke-linecap="round" stroke-linejoin="round"/>
<path d="M944 1166 L944 1296" stroke="#fff" stroke-width="6.10" fill="none" stroke-linecap="round" stroke-linejoin="round"/>
<path d="M806 1073 L800 1100 C797 1110 790 1114 780 1118 L738 1137" stroke="#000" stroke-width="11.50" fill="none" stroke-linecap="round" stroke-linejoin="round"/>
<path d="M806 1073 L800 1100 C797 1110 790 1114 780 1118 L738 1137" stroke="#fff" stroke-width="6.10" fill="none" stroke-linecap="round" stroke-linejoin="round"/>
<ellipse cx="878" cy="989" rx="2.5" ry="5" transform="rotate(-22 878 989)" fill="#fff" stroke="#000" stroke-width="2.20"/>
<ellipse cx="735" cy="1138" rx="4" ry="6.5" transform="rotate(-23 735 1138)" fill="#fff" stroke="#000" stroke-width="2.44"/>
<circle cx="734" cy="1138" r="2" fill="none" stroke="#000" stroke-width="1.71"/>
<path d="M936 1298 L953.5 1298 L953.5 1316 C957 1325 962 1331 966 1336 C970 1342 969 1349 962 1352 C955 1355 935 1355 928 1352 C921 1349 920 1344 924 1339 C929 1332 933 1325 936 1316 Z" fill="#fff" stroke="#000" stroke-width="3.17"/>
<path d="M936 1298 L953.5 1298 L953.5 1316 C957 1325 962 1331 966 1336 C970 1342 969 1349 962 1352 C955 1355 935 1355 928 1352 C921 1349 920 1344 924 1339 C929 1332 933 1325 936 1316 Z" fill="url(#dots)"/>
<rect x="936" y="1297" width="17.5" height="5" fill="#000"/>
<path d="M936 1316.5 L953.5 1316.5" stroke="#000" stroke-width="2.44" fill="none" stroke-linejoin="round" stroke-linecap="round" />
<path d="M929 1335 C937 1341 952 1341 960 1334" stroke="#000" stroke-width="2.68" fill="none" stroke-linejoin="round" stroke-linecap="round" />
<path d="M183 1194 L82 1152 C62 1144 52 1125 51 1105 C50 1085 56 1068 72 1053 C80 1046 88 1040 100 1034 L168 1005" stroke="#000" stroke-width="20.00" fill="none" stroke-linecap="round" stroke-linejoin="round"/>
<path d="M183 1194 L82 1152 C62 1144 52 1125 51 1105 C50 1085 56 1068 72 1053 C80 1046 88 1040 100 1034 L168 1005" stroke="#fff" stroke-width="14.00" fill="none" stroke-linecap="round" stroke-linejoin="round"/>
<path d="M183 1194 L82 1152 C62 1144 52 1125 51 1105 C50 1085 56 1068 72 1053 C80 1046 88 1040 100 1034 L168 1005" stroke="url(#dots)" stroke-width="13.00" fill="none" stroke-linecap="round" stroke-linejoin="round"/>
<ellipse cx="183" cy="1194" rx="5" ry="8" transform="rotate(22 183 1194)" fill="#fff" stroke="#000" stroke-width="3.17"/>
<path d="M183.5 1190.4 A2.2 3.6 0 1 0 183.5 1197.6" transform="rotate(22 183 1194)" fill="none" stroke="#000" stroke-width="2.20"/>
<path d="M204 1045 C195 1056 189 1070 190 1086 C192 1106 207 1117 232 1117 C252 1117 290 1105 322 1095 C340 1091 355 1101 375 1102 L393 1098" stroke="#000" stroke-width="21.50" fill="none" stroke-linecap="round" stroke-linejoin="round"/>
<path d="M204 1045 C195 1056 189 1070 190 1086 C192 1106 207 1117 232 1117 C252 1117 290 1105 322 1095 C340 1091 355 1101 375 1102 L393 1098" stroke="#fff" stroke-width="15.50" fill="none" stroke-linecap="round" stroke-linejoin="round"/>
<path d="M204 1045 C195 1056 189 1070 190 1086 C192 1106 207 1117 232 1117 C252 1117 290 1105 322 1095 C340 1091 355 1101 375 1102 L393 1098" stroke="url(#dots)" stroke-width="14.50" fill="none" stroke-linecap="round" stroke-linejoin="round"/>
<path d="M160 802 L125 815 C107 822 100 838 102 858 L116 911 L175 1128 C181 1150 200 1168 235 1166 L300 1146 C315 1141 325 1138 335 1139 C350 1141 365 1146 385 1145 L399 1141" stroke="#000" stroke-width="21.00" fill="none" stroke-linecap="round" stroke-linejoin="round"/>
<path d="M160 802 L125 815 C107 822 100 838 102 858 L116 911 L175 1128 C181 1150 200 1168 235 1166 L300 1146 C315 1141 325 1138 335 1139 C350 1141 365 1146 385 1145 L399 1141" stroke="#fff" stroke-width="15.00" fill="none" stroke-linecap="round" stroke-linejoin="round"/>
<path d="M160 802 L125 815 C107 822 100 838 102 858 L116 911 L175 1128 C181 1150 200 1168 235 1166 L300 1146 C315 1141 325 1138 335 1139 C350 1141 365 1146 385 1145 L399 1141" stroke="url(#dots)" stroke-width="14.00" fill="none" stroke-linecap="round" stroke-linejoin="round"/>
<g transform="translate(203 1203) rotate(20) scale(0.9 0.9)"><ellipse cx="0" cy="0" rx="9" ry="12" transform="rotate(10)" fill="#fff" stroke="#000" stroke-width="3.17"/><path d="M1 -11 C-6 -5 -5 6 2 11" fill="none" stroke="#000" stroke-width="2.44"/><path d="M5 -5 L9 -8 L12 -7 L13 -4 L11 -2 L15 0 L12 3 L12 6 L15 9 L12 11 L12 15 L8 15 L6 11 L4 6 Z" fill="#000"/><circle cx="9" cy="-4" r="1.2" fill="#fff"/><circle cx="9" cy="5" r="1.2" fill="#fff"/><circle cx="9.5" cy="12" r="1.1" fill="#fff"/></g>
<ellipse cx="267" cy="1222" rx="17" ry="23" transform="rotate(-20 267 1222)" fill="#fff" stroke="#000" stroke-width="2.93"/>
<path d="M281 1212 L296 1206 C300 1205 302 1213 298 1215 L284 1221" stroke="#000" stroke-width="2.68" fill="#fff" stroke-linejoin="round" stroke-linecap="round" />
<ellipse cx="259" cy="1226" rx="14" ry="22" transform="rotate(-20 259 1226)" fill="#fff" stroke="#000" stroke-width="2.93"/>
<path d="M262 1208 C268 1214 270 1235 264 1246" stroke="#000" stroke-width="1.95" fill="none" stroke-linejoin="round" stroke-linecap="round" />
<ellipse cx="249" cy="1229" rx="12" ry="19" transform="rotate(-20 249 1229)" fill="#fff" stroke="#000" stroke-width="2.93"/>
<ellipse cx="241" cy="1231" rx="9" ry="15" transform="rotate(-20 241 1231)" fill="#fff" stroke="#000" stroke-width="2.93"/>
<path d="M218 1211 L232 1207 L236 1219 L222 1222" stroke="#000" stroke-width="2.68" fill="#fff" stroke-linejoin="round" stroke-linecap="round" />
<ellipse cx="220" cy="1216" rx="4" ry="6" transform="rotate(-20 220 1216)" fill="#fff" stroke="#000" stroke-width="2.68"/>
<path d="M229 1209 C232 1212 233 1217 232 1220" stroke="#000" stroke-width="1.95" fill="none" stroke-linejoin="round" stroke-linecap="round" />
<path d="M207 1240 L240 1229 L243 1238 L211 1253" stroke="#000" stroke-width="2.68" fill="#fff" stroke-linejoin="round" stroke-linecap="round" />
<ellipse cx="209" cy="1247" rx="4.5" ry="6.5" transform="rotate(-25 209 1247)" fill="#fff" stroke="#000" stroke-width="2.68"/>
<path d="M214 1239 C217 1243 218 1248 216 1252 M219 1237 C222 1241 223 1246 221 1250 M224 1235 C227 1239 228 1244 226 1248" stroke="#000" stroke-width="2.20" fill="none" stroke-linejoin="round" stroke-linecap="round" />
<path d="M80 1304 L116 1288" stroke="#000" stroke-width="18.50" fill="none" stroke-linecap="round" stroke-linejoin="round"/>
<path d="M80 1304 L116 1288" stroke="#fff" stroke-width="12.50" fill="none" stroke-linecap="round" stroke-linejoin="round"/>
<path d="M80 1304 L116 1288" stroke="url(#dots)" stroke-width="11.50" fill="none" stroke-linecap="round" stroke-linejoin="round"/>
<ellipse cx="80" cy="1304" rx="4.6" ry="7.2" transform="rotate(-24 80 1304)" fill="#fff" stroke="#000" stroke-width="3.17"/>
<path d="M80.5 1300.7 A2.1 3.3 0 1 0 80.5 1307.3" transform="rotate(-24 80 1304)" fill="none" stroke="#000" stroke-width="2.20"/>
<path d="M135 1286 L160 1271" stroke="#000" stroke-width="17.50" fill="none" stroke-linecap="round" stroke-linejoin="round"/>
<path d="M135 1286 L160 1271" stroke="#fff" stroke-width="11.50" fill="none" stroke-linecap="round" stroke-linejoin="round"/>
<path d="M135 1286 L160 1271" stroke="url(#dots)" stroke-width="10.50" fill="none" stroke-linecap="round" stroke-linejoin="round"/>
<ellipse cx="135" cy="1286" rx="2.5" ry="6" transform="rotate(-30 135 1286)" fill="#fff" stroke="#000" stroke-width="3.17"/>
<path d="M135.2 1283.3 A1.1 2.7 0 1 0 135.2 1288.7" transform="rotate(-30 135 1286)" fill="none" stroke="#000" stroke-width="2.20"/>
<g transform="translate(183 1260) rotate(0) scale(0.9 0.9)"><ellipse cx="0" cy="0" rx="9" ry="12" transform="rotate(10)" fill="#fff" stroke="#000" stroke-width="3.17"/><path d="M1 -11 C-6 -5 -5 6 2 11" fill="none" stroke="#000" stroke-width="2.44"/><path d="M5 -5 L9 -8 L12 -7 L13 -4 L11 -2 L15 0 L12 3 L12 6 L15 9 L12 11 L12 15 L8 15 L6 11 L4 6 Z" fill="#000"/><circle cx="9" cy="-4" r="1.2" fill="#fff"/><circle cx="9" cy="5" r="1.2" fill="#fff"/><circle cx="9.5" cy="12" r="1.1" fill="#fff"/></g>
<g transform="translate(57 1316) rotate(10) scale(0.9 0.9)"><ellipse cx="0" cy="0" rx="9" ry="12" transform="rotate(10)" fill="#fff" stroke="#000" stroke-width="3.17"/><path d="M1 -11 C-6 -5 -5 6 2 11" fill="none" stroke="#000" stroke-width="2.44"/><path d="M5 -5 L9 -8 L12 -7 L13 -4 L11 -2 L15 0 L12 3 L12 6 L15 9 L12 11 L12 15 L8 15 L6 11 L4 6 Z" fill="#000"/><circle cx="9" cy="-4" r="1.2" fill="#fff"/><circle cx="9" cy="5" r="1.2" fill="#fff"/><circle cx="9.5" cy="12" r="1.1" fill="#fff"/></g>
<path d="M36 1324 L99 1357 L565.5 1150 L632.4 1173.6" stroke="#000" stroke-width="2.44" fill="none" stroke-dasharray="24 8"/>
<path d="M618 1168.5 L632.4 1173.6 L612.7 1181.5" stroke="#000" stroke-width="2.44" fill="none"/>
<path d="M524 1226 L510 1232" stroke="#000" stroke-width="20.50" fill="none" stroke-linecap="round" stroke-linejoin="round"/>
<path d="M524 1226 L510 1232" stroke="#fff" stroke-width="14.50" fill="none" stroke-linecap="round" stroke-linejoin="round"/>
<path d="M524 1226 L510 1232" stroke="url(#dots)" stroke-width="13.50" fill="none" stroke-linecap="round" stroke-linejoin="round"/>
<path d="M524 1226 L478 1246 C465 1252 460 1262 460 1280 L460 1305" stroke="#000" stroke-width="20.50" fill="none" stroke-linecap="butt" stroke-linejoin="round"/>
<path d="M524 1226 L478 1246 C465 1252 460 1262 460 1280 L460 1305" stroke="#fff" stroke-width="14.50" fill="none" stroke-linecap="butt" stroke-linejoin="round"/>
<path d="M524 1226 L478 1246 C465 1252 460 1262 460 1280 L460 1305" stroke="url(#dots)" stroke-width="13.50" fill="none" stroke-linecap="butt" stroke-linejoin="round"/>
<path d="M449.5 1304 L470.5 1304" stroke="#000" stroke-width="3.17"/>
<path d="M461 1312 L461 1368" stroke="#000" stroke-width="20.50" fill="none" stroke-linecap="butt" stroke-linejoin="round"/>
<path d="M461 1312 L461 1368" stroke="#fff" stroke-width="14.50" fill="none" stroke-linecap="butt" stroke-linejoin="round"/>
<path d="M461 1312 L461 1368" stroke="url(#dots)" stroke-width="13.50" fill="none" stroke-linecap="butt" stroke-linejoin="round"/>
<path d="M450.5 1313 L471.5 1313 M450.5 1367 L471.5 1367" stroke="#000" stroke-width="3.17"/>
<g transform="translate(546 1213) rotate(8) scale(0.9 0.9)"><ellipse cx="0" cy="0" rx="9" ry="12" transform="rotate(10)" fill="#fff" stroke="#000" stroke-width="3.17"/><path d="M1 -11 C-6 -5 -5 6 2 11" fill="none" stroke="#000" stroke-width="2.44"/><path d="M5 -5 L9 -8 L12 -7 L13 -4 L11 -2 L15 0 L12 3 L12 6 L15 9 L12 11 L12 15 L8 15 L6 11 L4 6 Z" fill="#000"/><circle cx="9" cy="-4" r="1.2" fill="#fff"/><circle cx="9" cy="5" r="1.2" fill="#fff"/><circle cx="9.5" cy="12" r="1.1" fill="#fff"/></g>
<g transform="translate(591 1194) rotate(-24)">
<path d="M6 -9 L24 -9 L24 9 L6 9 Z" stroke="#000" stroke-width="2.93" fill="#fff" stroke-linejoin="round" stroke-linecap="round" />
<ellipse cx="24" cy="0" rx="4" ry="9" fill="#fff" stroke="#000" stroke-width="2.93"/>
<path d="M15 -9 C18 -5 18 5 15 9 M19 -9 C22 -5 22 5 19 9" stroke="#000" stroke-width="2.20" fill="none" stroke-linejoin="round" stroke-linecap="round" />
<ellipse cx="1" cy="0" rx="6" ry="11.5" fill="#fff" stroke="#000" stroke-width="2.93"/>
<path d="M-3 -10 C2 -6 2 6 -3 10" stroke="#000" stroke-width="2.20" fill="none" stroke-linejoin="round" stroke-linecap="round" />
<path d="M-18 -7.5 L-4 -7.5 L-4 7.5 L-18 7.5 Z" stroke="#000" stroke-width="2.93" fill="#fff" stroke-linejoin="round" stroke-linecap="round" />
<path d="M-12 -7.5 C-9 -4 -9 4 -12 7.5 M-8 -7.5 C-5 -4 -5 4 -8 7.5" stroke="#000" stroke-width="2.20" fill="none" stroke-linejoin="round" stroke-linecap="round" />
<ellipse cx="-18" cy="0" rx="4" ry="7.5" fill="#fff" stroke="#000" stroke-width="2.93"/>
<ellipse cx="-18" cy="0" rx="1.8" ry="3.2" fill="none" stroke="#000" stroke-width="2.20"/>
</g>
<g transform="translate(458 1384) rotate(0) scale(0.9 0.9)"><path d="M-4 -2 C-3 -9 14 -11 17 -4 L17 3 C17 9 -1 10 -3 5 Z" fill="#fff" stroke="#000" stroke-width="3.17"/><path d="M-4 -1 C-1 3 12 2 17 -2" fill="none" stroke="#000" stroke-width="2.68"/><path d="M-19 -1 C-17 -4 -10 -4 -5 -3 L1 0 L1 8 C-3 11 -8 10 -11 9 L-17 4 Z" fill="#000"/><circle cx="-15" cy="0" r="1" fill="#fff"/><circle cx="-10" cy="-1" r="1" fill="#fff"/><circle cx="-3" cy="6" r="1.1" fill="#fff"/></g>
<path d="M450 1457 L450 1480 C452 1489 479 1489 481 1480 L481 1457 Z" stroke="#000" stroke-width="2.93" fill="#fff" stroke-linejoin="round" stroke-linecap="round" />
<path d="M451 1481 C455 1486 476 1486 480 1481" stroke="#000" stroke-width="2.93" fill="none" stroke-linejoin="round" stroke-linecap="round" />
<ellipse cx="459.5" cy="1448" rx="17" ry="10.5" fill="#fff" stroke="#000" stroke-width="2.93"/>
<path d="M443 1450 C446 1457 470 1460 476 1452" stroke="#000" stroke-width="2.20" fill="none" stroke-linejoin="round" stroke-linecap="round" />
<ellipse cx="459.5" cy="1444" rx="9" ry="5" fill="#fff" stroke="#000" stroke-width="2.44"/>
<path d="M455 1408 C455 1402 469 1402 469 1408 L469 1442 C466 1445 458 1445 455 1442 Z" stroke="#000" stroke-width="2.93" fill="#fff" stroke-linejoin="round" stroke-linecap="round" />
<path d="M455 1409 C456 1412 468 1412 469 1409" stroke="#000" stroke-width="1.95" fill="none" stroke-linejoin="round" stroke-linecap="round" />
<path d="M455 1429 C458 1431 466 1431 469 1429" stroke="#000" stroke-width="2.44" fill="none" stroke-linejoin="round" stroke-linecap="round" />
<path d="M470 1432 L478 1427 L492 1424.5 L496 1430 L496 1455 L476 1460 L471 1458 Z" stroke="#000" stroke-width="2.93" fill="#fff" stroke-linejoin="round" stroke-linecap="round" />
<path d="M471 1433 L478 1431 L494 1428 M478 1431 L478 1459" stroke="#000" stroke-width="2.20" fill="none" stroke-linejoin="round" stroke-linecap="round" />
<defs><clipPath id="lc"><circle cx="966.6" cy="1499.6" r="100"/></clipPath><radialGradient id="lg" cx="0.45" cy="0.4" r="0.7"><stop offset="0" stop-color="#c98080"/><stop offset="1" stop-color="#d29a9a"/></radialGradient></defs>
<g clip-path="url(#lc)">
<rect x="860" y="1395" width="210" height="210" fill="url(#lg)"/>
<path d="M866 1520 L905 1470 L960 1440 L1066 1420 L1066 1400 L866 1400 Z" fill="#c47474" opacity="0.7"/>
<path d="M866 1540 L930 1590 L1000 1600 L866 1600 Z" fill="#d7a5a5" opacity="0.8"/>
<path d="M1025 1480 L1066 1470 L1066 1540 L1030 1560 Z" fill="#dfaeae" opacity="0.8"/>
<path d="M870 1510 L905 1525 L905 1545 L875 1560 Z" fill="#b86868" opacity="0.6"/>
</g>
<path d="M905.8 1428 C945 1420 990 1420 1028.4 1428 L1026 1524 C1020 1548 996 1570 966.6 1582 C937 1570 913 1548 908.9 1524 Z" fill="#5d6066"/>
<path d="M909.5 1448 L1024.5 1448 L1022.5 1522 C1017 1544 994 1563 966.6 1575 C939 1563 916 1544 911.5 1522 Z" fill="#d8d2b4"/>
<path d="M951 1442 L982 1442 L982 1569 C976 1572 971 1574 966.6 1576 C962 1574 957 1572 951 1569 Z" fill="#c8464c"/>
<g transform="translate(967.5 1520) scale(0.76 1)"><text x="0" y="0" text-anchor="middle" font-family="Liberation Sans, sans-serif" font-weight="bold" font-size="84" fill="#5b5f66" stroke="#dcd6bb" stroke-width="10.00" stroke-linejoin="round" letter-spacing="2">DC</text><text x="0" y="0" text-anchor="middle" font-family="Liberation Sans, sans-serif" font-weight="bold" font-size="84" fill="#5b5f66" stroke="#5b5f66" stroke-width="5.00" stroke-linejoin="round" letter-spacing="2">DC</text></g>
<g transform="translate(968.5 1539) scale(1.6 1)"><text x="0" y="0" text-anchor="middle" font-family="Liberation Sans, sans-serif" font-size="14.5" fill="#d8d2b4" stroke="#6b6e73" stroke-width="1.10" letter-spacing="1.5">AUTO</text></g>
<text x="967" y="1444" text-anchor="middle" font-family="Liberation Sans, sans-serif" font-weight="bold" font-size="15.5" fill="#f2efe6" transform="rotate(-1 967 1444)">DCAUTO.COM</text>
<g font-family="Liberation Sans, sans-serif" font-weight="bold" font-size="22.5" text-anchor="middle" fill="#000">
<text x="323.8" y="207.3">38</text>
<text x="325.6" y="237.7">35</text>
<text x="445.6" y="196.3">36</text>
<text x="515" y="169.5">37</text>
<text x="542.3" y="179.3">35</text>
<text x="663" y="212">17</text>
<text x="778" y="213">32</text>
<text x="852" y="210.5">17</text>
<text x="567.5" y="316">31</text>
<text x="318.8" y="349">27</text>
<text x="501.5" y="368.5">39</text>
<text x="409.2" y="388">27</text>
<text x="875.5" y="350">34</text>
<text x="690.5" y="387.5">33</text>
<text x="165.1" y="411.5">28</text>
<text x="327.9" y="402.5">29</text>
<text x="235.2" y="460">27</text>
<text x="391.5" y="478">30</text>
<text x="798" y="555">33</text>
<text x="303" y="620.6">27</text>
<text x="78.7" y="607">5</text>
<text x="169.2" y="611.5">2</text>
<text x="104" y="626">6</text>
<text x="392.1" y="666.2">18</text>
<text x="302.9" y="704.3">17</text>
<text x="251.8" y="726.2">21</text>
<text x="105.7" y="760">3</text>
<text x="128.7" y="780.2">4</text>
<text x="357.3" y="755.5">17</text>
<text x="197.9" y="828.6">17</text>
<text x="525.3" y="838">18</text>
<text x="387.6" y="881.4">17</text>
<text x="54.8" y="920.4">19</text>
<text x="292.4" y="919.7">1</text>
<text x="202.5" y="952">17</text>
<text x="344.8" y="987.5">17</text>
<text x="301" y="1005">15</text>
<text x="274.5" y="1033">17</text>
<text x="579.9" y="965.5">26</text>
<text x="581" y="1125">22</text>
<text x="882.8" y="965.7">23</text>
<text x="929.1" y="947.4">17</text>
<text x="790.8" y="1011">17</text>
<text x="879.9" y="1075">24</text>
<text x="321.4" y="1055.2">20</text>
<text x="425.9" y="1035">17</text>
<text x="102.2" y="1116">7</text>
<text x="427.1" y="1194.7">17</text>
<text x="164.1" y="1241">16</text>
<text x="109.9" y="1239.6">13</text>
<text x="55.9" y="1266.3">12</text>
<text x="184.4" y="1310">14</text>
<text x="237.1" y="1287.4">40</text>
<text x="398.9" y="1298.3">10</text>
<text x="551.7" y="1283.8">9</text>
<text x="603.5" y="1282.5">11</text>
<text x="883" y="1330">25</text>
<text x="406" y="1395.3">9</text>
<text x="406" y="1462">8</text>
</g>
<line x1="339" y1="200" x2="383" y2="200" stroke="#000" stroke-width="2.44"/>
<line x1="341.4" y1="230.4" x2="392.6" y2="230.4" stroke="#000" stroke-width="2.44"/>
<line x1="459.6" y1="188.5" x2="481.5" y2="188.5" stroke="#000" stroke-width="2.44"/>
<line x1="517.6" y1="173" x2="517.6" y2="190" stroke="#000" stroke-width="2.44"/>
<line x1="536.4" y1="181.7" x2="536.4" y2="195" stroke="#000" stroke-width="2.44"/>
<line x1="662" y1="213" x2="662" y2="238" stroke="#000" stroke-width="2.44"/>
<line x1="778" y1="214" x2="778" y2="242" stroke="#000" stroke-width="2.44"/>
<line x1="852" y1="211" x2="852" y2="225" stroke="#000" stroke-width="2.44"/>
<line x1="568" y1="272" x2="568" y2="298" stroke="#000" stroke-width="2.44"/>
<line x1="294.7" y1="341.8" x2="306" y2="341.8" stroke="#000" stroke-width="2.44"/>
<line x1="474.5" y1="361" x2="488" y2="361" stroke="#000" stroke-width="2.44"/>
<line x1="381.5" y1="380.5" x2="395" y2="380.5" stroke="#000" stroke-width="2.44"/>
<line x1="878" y1="352.5" x2="878" y2="375" stroke="#000" stroke-width="2.44"/>
<line x1="690.5" y1="390" x2="690.5" y2="412.5" stroke="#000" stroke-width="2.44"/>
<line x1="177.5" y1="404.4" x2="199.4" y2="404.4" stroke="#000" stroke-width="2.44"/>
<line x1="303.7" y1="395.5" x2="315" y2="395.5" stroke="#000" stroke-width="2.44"/>
<line x1="247.5" y1="451.5" x2="260" y2="451.5" stroke="#000" stroke-width="2.44"/>
<line x1="342" y1="470" x2="376.8" y2="470" stroke="#000" stroke-width="2.44"/>
<line x1="797" y1="502.5" x2="797" y2="530" stroke="#000" stroke-width="2.44"/>
<line x1="303" y1="579" x2="303" y2="600" stroke="#000" stroke-width="2.44"/>
<line x1="78.6" y1="612.6" x2="78.6" y2="655.4" stroke="#000" stroke-width="2.44"/>
<line x1="168.5" y1="616" x2="168.5" y2="640.7" stroke="#000" stroke-width="2.44"/>
<line x1="104" y1="631.7" x2="104" y2="665.5" stroke="#000" stroke-width="2.44"/>
<line x1="390.2" y1="670" x2="390.2" y2="697" stroke="#000" stroke-width="2.44"/>
<line x1="301" y1="707" x2="301" y2="729" stroke="#000" stroke-width="2.44"/>
<line x1="253.6" y1="729.6" x2="253.6" y2="747.6" stroke="#000" stroke-width="2.44"/>
<line x1="105" y1="718.3" x2="105" y2="737.4" stroke="#000" stroke-width="2.44"/>
<line x1="128.7" y1="730.7" x2="128.7" y2="764.4" stroke="#000" stroke-width="2.44"/>
<line x1="356.6" y1="759.4" x2="356.6" y2="772.5" stroke="#000" stroke-width="2.44"/>
<line x1="198" y1="800.5" x2="198" y2="810.6" stroke="#000" stroke-width="2.44"/>
<line x1="476.5" y1="830.2" x2="512.2" y2="830.2" stroke="#000" stroke-width="2.44"/>
<line x1="386.8" y1="839.4" x2="386.8" y2="861.7" stroke="#000" stroke-width="2.44"/>
<line x1="68.5" y1="912" x2="106" y2="912" stroke="#000" stroke-width="2.44"/>
<line x1="293.6" y1="891.6" x2="293.6" y2="901.7" stroke="#000" stroke-width="2.44"/>
<line x1="201" y1="954.5" x2="201" y2="975.5" stroke="#000" stroke-width="2.44"/>
<line x1="343.5" y1="945" x2="343.5" y2="967.5" stroke="#000" stroke-width="2.44"/>
<line x1="300" y1="960" x2="300" y2="985" stroke="#000" stroke-width="2.44"/>
<line x1="241.7" y1="1026" x2="262.7" y2="1026" stroke="#000" stroke-width="2.44"/>
<line x1="579.6" y1="968" x2="579.6" y2="1007" stroke="#000" stroke-width="2.44"/>
<line x1="580" y1="1069.5" x2="580" y2="1102.5" stroke="#000" stroke-width="2.44"/>
<line x1="884" y1="926" x2="884" y2="947.4" stroke="#000" stroke-width="2.44"/>
<line x1="927.7" y1="913.7" x2="927.7" y2="927.7" stroke="#000" stroke-width="2.44"/>
<line x1="790" y1="983" x2="790" y2="992.5" stroke="#000" stroke-width="2.44"/>
<line x1="895" y1="1067.5" x2="938" y2="1067.5" stroke="#000" stroke-width="2.44"/>
<line x1="321.8" y1="1057.5" x2="321.8" y2="1084" stroke="#000" stroke-width="2.44"/>
<line x1="424.8" y1="1038.4" x2="424.8" y2="1073.2" stroke="#000" stroke-width="2.44"/>
<line x1="61" y1="1107.5" x2="96" y2="1107.5" stroke="#000" stroke-width="2.44"/>
<line x1="427" y1="1140.7" x2="427" y2="1174.4" stroke="#000" stroke-width="2.44"/>
<line x1="176" y1="1231" x2="191.5" y2="1220" stroke="#000" stroke-width="2.44"/>
<line x1="109.4" y1="1242.4" x2="109.4" y2="1279" stroke="#000" stroke-width="2.44"/>
<line x1="54.3" y1="1269" x2="54.3" y2="1303" stroke="#000" stroke-width="2.44"/>
<line x1="183.6" y1="1273.3" x2="183.6" y2="1290" stroke="#000" stroke-width="2.44"/>
<line x1="237.3" y1="1248" x2="237.3" y2="1269" stroke="#000" stroke-width="2.44"/>
<line x1="413.3" y1="1289" x2="450" y2="1289" stroke="#000" stroke-width="2.44"/>
<line x1="551" y1="1226" x2="551" y2="1261.5" stroke="#000" stroke-width="2.44"/>
<line x1="603.5" y1="1201" x2="603.5" y2="1263" stroke="#000" stroke-width="2.44"/>
<line x1="898" y1="1320" x2="936" y2="1320" stroke="#000" stroke-width="2.44"/>
<line x1="414.6" y1="1387.5" x2="437" y2="1387.5" stroke="#000" stroke-width="2.44"/>
<line x1="413.3" y1="1451.8" x2="440.8" y2="1451.8" stroke="#000" stroke-width="2.44"/>
</svg></body></html>
